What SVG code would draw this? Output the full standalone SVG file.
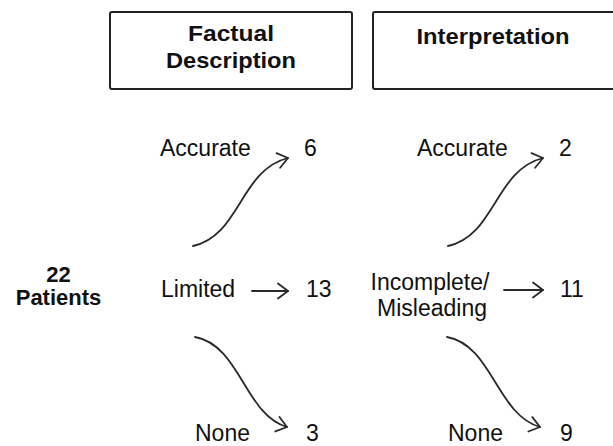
<svg xmlns="http://www.w3.org/2000/svg" width="613" height="446" viewBox="0 0 613 446">
<style>
.box{fill:#fff;stroke:#222;stroke-width:2}
.hd{font-family:"Liberation Sans",Arial,sans-serif;font-weight:bold;font-size:22px;fill:#111;text-anchor:middle}
.lb{font-family:"Liberation Sans",Arial,sans-serif;font-size:23px;fill:#111}
.bd{font-family:"Liberation Sans",Arial,sans-serif;font-weight:bold;font-size:22px;fill:#111;text-anchor:middle}
.cn{fill:none;stroke:#2a2a2a;stroke-width:1.8;stroke-linecap:round}
</style>
<defs>
<marker id="ah" markerUnits="userSpaceOnUse" viewBox="-12 -9 14 18" refX="0" refY="0" markerWidth="14" markerHeight="18" orient="auto">
<path d="M-10,-7.5 L0,0 L-10,7.5" fill="none" stroke="#2a2a2a" stroke-width="1.8" stroke-linecap="round" stroke-linejoin="round"/>
</marker>
</defs>
<rect width="613" height="446" fill="#fff"/>
<g id="factual">
<rect class="box" x="110" y="12" width="242" height="77" rx="2"/>
<text class="hd" x="231" y="41" textLength="86" lengthAdjust="spacingAndGlyphs">Factual</text>
<text class="hd" x="231" y="68" textLength="130" lengthAdjust="spacingAndGlyphs">Description</text>
</g>
<g id="interpretation">
<rect class="box" x="373" y="12" width="260" height="77" rx="2"/>
<text class="hd" x="493" y="44" textLength="153" lengthAdjust="spacingAndGlyphs">Interpretation</text>
</g>
<g id="patients">
<text class="bd" x="58.5" y="282">22</text>
<text class="bd" x="58.5" y="305">Patients</text>
</g>
<g id="fd-accurate"><text class="lb" x="160" y="156">Accurate</text><text class="lb" x="304" y="156">6</text></g>
<g id="fd-limited"><text class="lb" x="161" y="297">Limited</text><text class="lb" x="306" y="297">13</text></g>
<g id="fd-none"><text class="lb" x="195" y="441">None</text><text class="lb" x="306" y="441">3</text></g>
<g id="in-accurate"><text class="lb" x="417" y="156">Accurate</text><text class="lb" x="559" y="156">2</text></g>
<g id="in-incomplete"><text class="lb" x="430" y="290" text-anchor="middle">Incomplete/</text><text class="lb" x="432" y="316" text-anchor="middle">Misleading</text><text class="lb" x="560" y="297">11</text></g>
<g id="in-none"><text class="lb" x="448" y="441">None</text><text class="lb" x="560" y="441">9</text></g>
<g id="connectors">
<path class="cn" marker-end="url(#ah)" d="M193,246 C240,236 240,170 288,158"/>
<path class="cn" marker-end="url(#ah)" d="M252,291 L288,291"/>
<path class="cn" marker-end="url(#ah)" d="M195,337 C240,345 245,415 287,427"/>
<path class="cn" marker-end="url(#ah)" d="M448,246 C495,236 495,170 543,158"/>
<path class="cn" marker-end="url(#ah)" d="M504,290 L543,290"/>
<path class="cn" marker-end="url(#ah)" d="M447,337 C492,345 497,415 540,427"/>
</g>
</svg>
